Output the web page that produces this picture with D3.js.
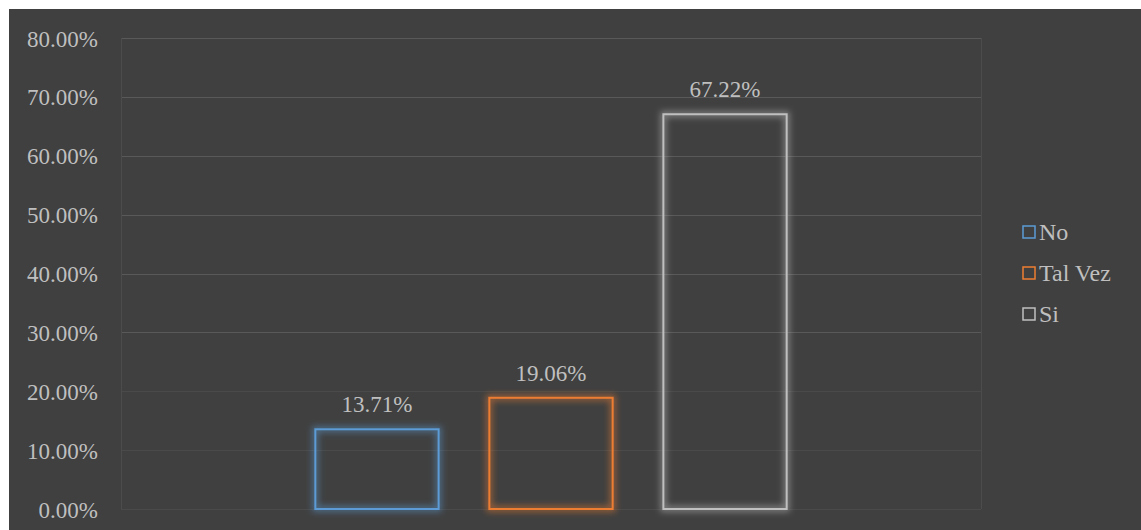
<!DOCTYPE html>
<html>
<head>
<meta charset="utf-8">
<script src="https://cdn.jsdelivr.net/npm/d3@7"></script>
<style>
  body { margin: 0; background: #fff; }
  svg { display: block; }
  text { font-family: "Liberation Serif", "Times New Roman", serif; fill: #bfbfbf; }
</style>
</head>
<body>
<svg width="1141" height="530"></svg>
<script>
// data
var categories = [""];
var seriesNames = ["No", "Tal Vez", "Si"];
var seriesValues = [0.1371, 0.1906, 0.6722];
var seriesColors = ["#5b9bd5", "#ed7d31", "#bfbfbf"];
var yTicks = [0, 0.1, 0.2, 0.3, 0.4, 0.5, 0.6, 0.7, 0.8];

var svg = d3.select("svg"),
    width = +svg.attr("width"),
    height = +svg.attr("height");

var plot = {left: 121, right: 981, top: 38, bottom: 509};

// background
svg.append("rect")
    .attr("x", 9).attr("y", 9)
    .attr("width", width - 9).attr("height", height - 9)
    .attr("fill", "#404040");

// glow filter per colour
var defs = svg.append("defs");
seriesColors.forEach(function(c, i) {
    var f = defs.append("filter")
        .attr("id", "glow" + i)
        .attr("x", "-20%").attr("y", "-20%")
        .attr("width", "140%").attr("height", "140%");
    f.append("feMorphology")
        .attr("in", "SourceGraphic")
        .attr("operator", "dilate")
        .attr("radius", 2)
        .attr("result", "thick");
    f.append("feGaussianBlur")
        .attr("in", "thick")
        .attr("stdDeviation", 3)
        .attr("result", "blur");
    f.append("feComponentTransfer").attr("in", "blur").attr("result", "soft")
        .append("feFuncA").attr("type", "linear").attr("slope", 0.5);
    var m = f.append("feMerge");
    m.append("feMergeNode").attr("in", "soft");
    m.append("feMergeNode").attr("in", "SourceGraphic");
});

var y = d3.scaleLinear()
    .domain([0, 0.8])
    .range([plot.bottom, plot.top]);

var x0 = d3.scaleBand()
    .domain(categories)
    .range([plot.left, plot.right])
    .paddingInner(0.29)
    .paddingOuter(0.29);

var x1 = d3.scaleBand()
    .domain(seriesNames)
    .range([0, x0.bandwidth()])
    .paddingInner(0.28)
    .paddingOuter(0);

var fmt = d3.format(".2%");

// gridlines
svg.append("g")
    .selectAll("line")
    .data(yTicks)
    .enter().append("line")
        .attr("x1", plot.left)
        .attr("x2", plot.right)
        .attr("y1", function(d) { return Math.round(y(d)) + 0.5; })
        .attr("y2", function(d) { return Math.round(y(d)) + 0.5; })
        .attr("stroke", function(d) { return d < 0.25 ? "#4a4a4a" : "#595959"; })
        .attr("stroke-width", 1);

// plot border sides
svg.append("line")
    .attr("x1", plot.left + 0.5).attr("x2", plot.left + 0.5)
    .attr("y1", plot.top).attr("y2", plot.bottom)
    .attr("stroke", "#4c4c4c");
svg.append("line")
    .attr("x1", plot.right + 0.5).attr("x2", plot.right + 0.5)
    .attr("y1", plot.top).attr("y2", plot.bottom)
    .attr("stroke", "#4c4c4c");

// y axis labels
var yAxis = d3.axisLeft(y)
    .tickValues(yTicks)
    .tickFormat(fmt)
    .tickSize(0)
    .tickPadding(0);

var ax = svg.append("g")
    .attr("transform", "translate(98,0)")
    .call(yAxis);
ax.select(".domain").remove();
ax.selectAll("text")
    .attr("font-size", "23px")
    .attr("fill", "#bfbfbf")
    .attr("font-family", "Liberation Serif, Times New Roman, serif")
    .attr("dy", "0.35em");

// bars
var group = svg.append("g")
    .attr("transform", "translate(" + x0(categories[0]) + ",0)");

group.selectAll("rect")
    .data(seriesValues)
    .enter().append("rect")
        .attr("x", function(d, i) { return x1(seriesNames[i]) + 1; })
        .attr("y", function(d) { return y(d) + 1; })
        .attr("width", x1.bandwidth() - 2)
        .attr("height", function(d) { return y(0) - y(d) - 1; })
        .attr("fill", "none")
        .attr("stroke", function(d, i) { return seriesColors[i]; })
        .attr("stroke-width", 2)
        .attr("filter", function(d, i) { return "url(#glow" + i + ")"; });

group.selectAll(".lbl")
    .data(seriesValues)
    .enter().append("text")
        .attr("class", "lbl")
        .attr("x", function(d, i) { return x1(seriesNames[i]) + x1.bandwidth() / 2; })
        .attr("y", function(d) { return y(d) - 16; })
        .attr("text-anchor", "middle")
        .attr("font-size", "23px")
        .text(function(d) { return fmt(d); });

// legend
var legend = svg.append("g")
    .attr("transform", "translate(1022,232)");

var items = legend.selectAll("g")
    .data(seriesNames)
    .enter().append("g")
        .attr("transform", function(d, i) { return "translate(0," + (i * 41) + ")"; });

items.append("rect")
    .attr("x", 1).attr("y", -6)
    .attr("width", 12).attr("height", 12)
    .attr("fill", "none")
    .attr("stroke", function(d, i) { return seriesColors[i]; })
    .attr("stroke-width", 1.5);

items.append("text")
    .attr("x", 17)
    .attr("y", 0)
    .attr("dy", "0.35em")
    .attr("font-size", "24px")
    .text(function(d) { return d; });
</script>
</body>
</html>
